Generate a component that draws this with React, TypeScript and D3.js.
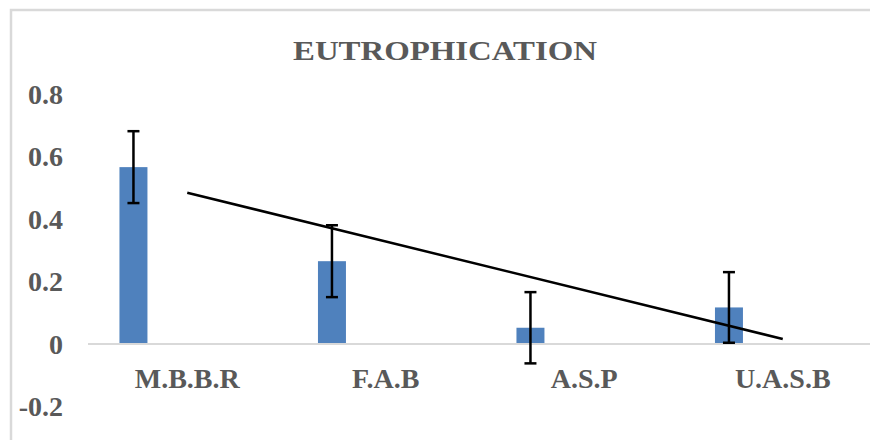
import React, { useRef, useEffect } from "react";
import * as d3 from "d3";

// chart data
const categories = ["M.B.B.R", "F.A.B", "A.S.P", "U.A.S.B"];
const means = [0.566, 0.265, 0.052, 0.117];
const errors = [0.115, 0.115, 0.114, 0.113];
const yTicks = [-0.2, 0, 0.2, 0.4, 0.6, 0.8];
const title = "EUTROPHICATION";

const App = () => {
  const svgRef = useRef<SVGSVGElement>(null);
  const width = 870;
  const height = 440;

  useEffect(() => {
    const svg = d3.select(svgRef.current);
    svg.selectAll("*").remove();

    const textColor = "#595959";
    const font = "'Liberation Serif', 'Times New Roman', serif";

    // outer chart frame (runs past the right and bottom edges)
    svg
      .append("rect")
      .attr("x", 11)
      .attr("y", 10)
      .attr("width", 900)
      .attr("height", 500)
      .attr("fill", "#fff")
      .attr("stroke", "#d9d9d9")
      .attr("stroke-width", 2.5);

    const xScale = d3.scaleBand().domain(categories).range([88, 882]).padding(0);
    const bw = xScale.bandwidth();
    const yScale = d3.scaleLinear().domain([-0.2, 0.8]).range([406.5, 94]);

    const barW = bw * 0.141;
    const barCenter = (c: string) => (xScale(c) as number) + bw * 0.229;
    const catCenter = (c: string) => (xScale(c) as number) + bw / 2;

    // title
    svg
      .append("text")
      .attr("x", 445)
      .attr("y", 60)
      .attr("text-anchor", "middle")
      .attr("font-family", font)
      .attr("font-weight", "bold")
      .attr("font-size", 28)
      .attr("fill", textColor)
      .attr("textLength", 304)
      .attr("lengthAdjust", "spacingAndGlyphs")
      .text(title);

    // y tick labels (plain hyphen for negatives, like the source)
    svg
      .append("g")
      .selectAll("text")
      .data(yTicks)
      .join("text")
      .attr("x", 63)
      .attr("y", (d) => yScale(d))
      .attr("dy", "0.35em")
      .attr("text-anchor", "end")
      .attr("font-family", font)
      .attr("font-weight", "bold")
      .attr("font-size", 28)
      .attr("fill", textColor)
      .text((d) => (d === 0 ? "0" : d.toFixed(1)));

    // bars
    svg
      .append("g")
      .selectAll("rect")
      .data(categories)
      .join("rect")
      .attr("x", (c) => barCenter(c) - barW / 2)
      .attr("y", (c, i) => yScale(Math.max(0, means[i])))
      .attr("width", barW)
      .attr("height", (c, i) => Math.abs(yScale(means[i]) - yScale(0)))
      .attr("fill", "#4f81bd");

    // zero line
    svg
      .append("line")
      .attr("x1", xScale.range()[0])
      .attr("x2", xScale.range()[1])
      .attr("y1", yScale(0))
      .attr("y2", yScale(0))
      .attr("stroke", "#d9d9d9")
      .attr("stroke-width", 2);

    // error bars
    const capW = 12;
    const eb = svg
      .append("g")
      .attr("stroke", "#000")
      .attr("stroke-width", 2.5)
      .selectAll("g")
      .data(categories)
      .join("g");
    eb.append("line")
      .attr("x1", (c) => barCenter(c))
      .attr("x2", (c) => barCenter(c))
      .attr("y1", (c, i) => yScale(means[i] + errors[i]))
      .attr("y2", (c, i) => yScale(means[i] - errors[i]));
    eb.append("line")
      .attr("x1", (c) => barCenter(c) - capW / 2)
      .attr("x2", (c) => barCenter(c) + capW / 2)
      .attr("y1", (c, i) => yScale(means[i] + errors[i]))
      .attr("y2", (c, i) => yScale(means[i] + errors[i]));
    eb.append("line")
      .attr("x1", (c) => barCenter(c) - capW / 2)
      .attr("x2", (c) => barCenter(c) + capW / 2)
      .attr("y1", (c, i) => yScale(means[i] - errors[i]))
      .attr("y2", (c, i) => yScale(means[i] - errors[i]));

    // linear trendline (least squares over category index)
    const xs = means.map((_, i) => i + 1);
    const mx = d3.mean(xs) as number;
    const my = d3.mean(means) as number;
    const slope =
      d3.sum(xs, (x, i) => (x - mx) * (means[i] - my)) /
      d3.sum(xs, (x) => (x - mx) * (x - mx));
    const intercept = my - slope * mx;
    const trendPts: [number, number][] = [0, categories.length - 1].map((i) => [
      catCenter(categories[i]),
      yScale(intercept + slope * (i + 1)),
    ]);
    svg
      .append("path")
      .attr("d", d3.line()(trendPts))
      .attr("fill", "none")
      .attr("stroke", "#000")
      .attr("stroke-width", 2.5);

    // category labels
    svg
      .append("g")
      .selectAll("text")
      .data(categories)
      .join("text")
      .attr("x", (c) => catCenter(c))
      .attr("y", 388)
      .attr("text-anchor", "middle")
      .attr("font-family", font)
      .attr("font-weight", "bold")
      .attr("font-size", 28)
      .attr("fill", textColor)
      .text((c) => c);
  }, []);

  return (
    <svg
      ref={svgRef}
      width={width}
      height={height}
      style={{ position: "absolute", left: 0, top: 0 }}
    ></svg>
  );
};

export default App;
